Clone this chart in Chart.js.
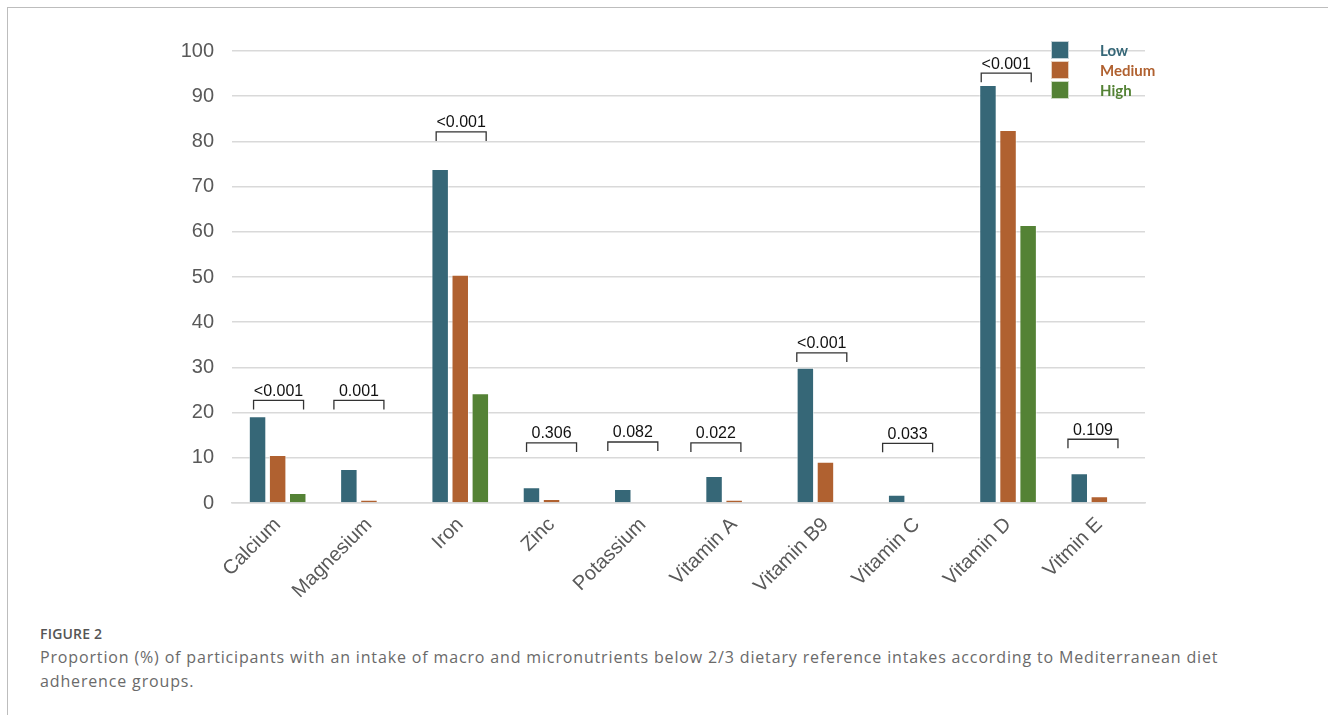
<!DOCTYPE html>
<html>
<head>
<meta charset="utf-8">
<script src="https://cdn.jsdelivr.net/npm/chart.js@4/dist/chart.umd.min.js"></script>
<style>
  body { margin: 0; background: #fff; width: 1328px; height: 715px; overflow: hidden; position: relative; }
  #frame { position: absolute; left: 7px; top: 7px; right: 0; bottom: 0; border-top: 1.5px solid #bdbdbd; border-left: 1.5px solid #bdbdbd; }
  #wrap { position: absolute; left: 0; top: 0; width: 1328px; height: 600px; }
  #figno { position: absolute; left: 40px; top: 624px; font: 600 14px "Open Sans", sans-serif; color: #555; letter-spacing: 0.2px; }
  #caption { position: absolute; left: 40px; top: 645px; font: 16px "Open Sans", sans-serif; color: #6a6a6a; line-height: 24px; letter-spacing: 0.85px; white-space: nowrap; }
</style>
</head>
<body>
<div id="frame"></div>
<div id="wrap"><canvas id="myChart" width="1328" height="600"></canvas></div>
<div id="figno">FIGURE 2</div>
<div id="caption">Proportion (%) of participants with an intake of macro and micronutrients below 2/3 dietary reference intakes according to Mediterranean diet<br>adherence groups.</div>
<script>
var nutrients = ['Calcium', 'Magnesium', 'Iron', 'Zinc', 'Potassium', 'Vitamin A', 'Vitamin B9', 'Vitamin C', 'Vitamin D', 'Vitmin E'];
var lowValues = [19.2, 7.5, 73.9, 3.5, 3.1, 6.0, 29.9, 1.8, 92.5, 6.6];
var mediumValues = [10.6, 0.7, 50.5, 0.9, 0.2, 0.7, 9.1, 0.2, 82.5, 1.5];
var highValues = [2.2, 0, 24.3, 0, 0, 0, 0, 0, 61.5, 0];
var pValues = ['<0.001', '0.001', '<0.001', '0.306', '0.082', '0.022', '<0.001', '0.033', '<0.001', '0.109'];
// where each bracket sits, in category index units and in y units
var bracketCenters = [0.01, 0.89, 2.01, 3.0, 3.89, 4.8, 5.96, 6.9, 7.98, 8.93];
var bracketLevels = [22.7, 22.7, 82.1, 13.3, 13.5, 13.3, 33.2, 13.2, 95.1, 14.1];
var yTicks = [0, 10, 20, 30, 40, 50, 60, 70, 80, 90, 100];

var colLow = '#366777';
var colMedium = '#B06130';
var colHigh = '#548235';

// p-value brackets over each group
var bracketPlugin = {
  id: 'brackets',
  afterDatasetsDraw: function(chart) {
    var ctx = chart.ctx;
    var xs = chart.scales.x;
    var ys = chart.scales.y;
    ctx.save();
    ctx.strokeStyle = '#333';
    ctx.lineWidth = 1.3;
    ctx.fillStyle = '#111';
    ctx.font = '16px "Liberation Sans", Arial, sans-serif';
    ctx.textAlign = 'center';
    ctx.textBaseline = 'alphabetic';
    for (var i = 0; i < nutrients.length; i++) {
      var cx = xs.getPixelForValue(bracketCenters[i]);
      var top = ys.getPixelForValue(bracketLevels[i]);
      ctx.beginPath();
      ctx.moveTo(cx - 25, top + 9);
      ctx.lineTo(cx - 25, top);
      ctx.lineTo(cx + 25, top);
      ctx.lineTo(cx + 25, top + 9);
      ctx.stroke();
      ctx.fillText(pValues[i], cx, top - 4.5);
    }
    ctx.restore();
  }
};

// legend drawn inside the plot, top right
var legendPlugin = {
  id: 'innerLegend',
  afterDatasetsDraw: function(chart) {
    var ctx = chart.ctx;
    var area = chart.chartArea;
    var x0 = area.right - 94;
    var y0 = area.top - 10;
    ctx.save();
    ctx.font = 'bold 15px Lato, sans-serif';
    ctx.textBaseline = 'middle';
    ctx.textAlign = 'left';
    chart.data.datasets.forEach(function(ds, k) {
      var y = y0 + k * 20;
      ctx.fillStyle = ds.backgroundColor;
      ctx.fillRect(x0, y, 18, 18);
      ctx.strokeStyle = 'rgba(255,255,255,0.7)';
      ctx.lineWidth = 1;
      ctx.strokeRect(x0 + 0.5, y + 0.5, 17, 17);
      ctx.fillStyle = ds.backgroundColor;
      ctx.fillText(ds.label, x0 + 49, y + 10);
    });
    ctx.restore();
  }
};

function init() {
  var ctx = document.getElementById('myChart').getContext('2d');
  var chart = new Chart(ctx, {
    type: 'bar',
    data: {
      labels: nutrients,
      datasets: [
        { label: 'Low', data: lowValues, backgroundColor: colLow },
        { label: 'Medium', data: mediumValues, backgroundColor: colMedium },
        { label: 'High', data: highValues, backgroundColor: colHigh }
      ]
    },
    options: {
      responsive: false,
      animation: false,
      devicePixelRatio: 1,
      layout: { padding: { left: 0, top: 51, right: 183, bottom: 0 } },
      datasets: {
        bar: {
          categoryPercentage: 0.66,
          barPercentage: 0.87,
          borderWidth: 1,
          borderColor: 'rgba(255,255,255,0.55)'
        }
      },
      plugins: {
        legend: { display: false },
        tooltip: { enabled: false }
      },
      scales: {
        x: {
          grid: { display: false },
          border: { display: true, color: '#d9d9d9', width: 1.5 },
          ticks: {
            color: '#595959',
            font: { family: '"Liberation Sans", Arial, sans-serif', size: 20 },
            maxRotation: 45,
            minRotation: 45,
            padding: 2
          },
          afterFit: function(s) { s.height = 97; }
        },
        y: {
          min: 0,
          max: 100,
          afterBuildTicks: function(s) {
            s.ticks = yTicks.map(function(v) { return { value: v }; });
          },
          grid: { color: '#d9d9d9', lineWidth: 1.5, drawTicks: false },
          border: { display: false },
          ticks: {
            color: '#595959',
            font: { family: '"Liberation Sans", Arial, sans-serif', size: 20 },
            padding: 18
          },
          afterFit: function(s) { s.width = 232; }
        }
      }
    },
    plugins: [bracketPlugin, legendPlugin]
  });
}

init();
</script>
</body>
</html>
